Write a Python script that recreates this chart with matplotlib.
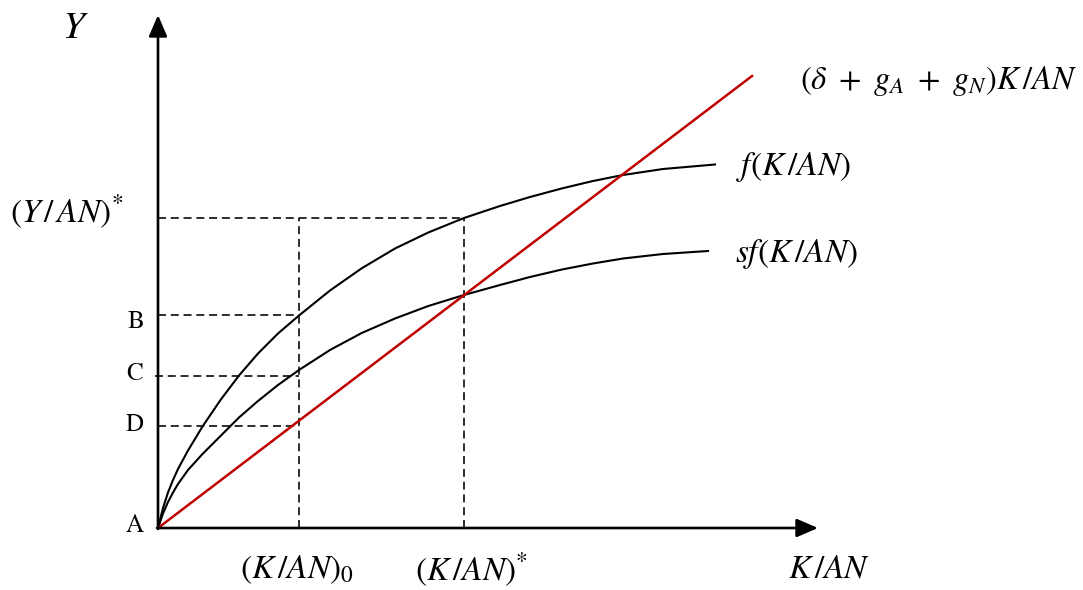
import numpy as np
import matplotlib.pyplot as plt

plt.rcParams['mathtext.fontset'] = 'stix'

# ── 読み取り値 (原点 A からのオフセット, 図の単位) ──────────────────────────
f_k = [0, 5, 10, 15, 20, 30, 44.5, 62.5, 81, 100, 120, 141, 172, 203.7, 237,
       270.3, 306, 342, 372, 404, 435, 465, 505, 557]
f_y = [0, 20, 35.5, 48, 59, 77.5, 101.5, 128, 152.5, 174.5, 194.5, 212.5, 237.5,
       259.7, 279.5, 295.5, 310, 322, 331, 339.6, 347, 353, 359, 363.5]

sf_k = [0, 5, 10, 15, 20, 30, 44.5, 62.5, 81, 100, 120, 141, 172, 203.7, 237,
        270.3, 306, 342, 372, 404, 435, 465, 505, 550]
sf_y = [0, 14.5, 26, 35.5, 44, 58, 74, 92, 110.5, 127, 143, 158, 178, 195,
        209.5, 222, 233, 243, 251, 258.5, 264.5, 269.5, 274, 277]

dep_k = [0, 594]
dep_y = [0, 452]

k0, kstar = 141, 306
ystar = 310
levels = {'B': 213, 'C': 152, 'D': 102}
label_y = {'A': 2.5, 'B': 206, 'C': 154.5, 'D': 103}
label_x = {'A': -23.5, 'B': -22, 'C': -23.5, 'D': -23}

x_max, y_max = 660, 513

fig = plt.figure(figsize=(10.83, 5.90), dpi=100)
ax = fig.add_axes([0, 0, 1, 1])
ax.set_xlim(-158, 925)
ax.set_ylim(-62, 528)
ax.set_axis_off()

# 軸 (矢印)
arrow = dict(arrowstyle='-|>,head_length=0.65,head_width=0.28', color='black',
             lw=1.9, mutation_scale=20, shrinkA=0, shrinkB=0)
ax.annotate('', xy=(0, y_max), xytext=(0, -1), arrowprops=arrow)
ax.annotate('', xy=(x_max, 0), xytext=(-1, 0), arrowprops=arrow)

# 破線
dash = dict(color='black', lw=1.15, ls=(0, (5, 3)))
ax.plot([0, kstar], [ystar, ystar], **dash)
ax.plot([k0, k0], [0, ystar], **dash)
ax.plot([kstar, kstar], [0, ystar], **dash)
for name, v in levels.items():
    x0 = -3 if name == 'C' else 0
    ax.plot([x0, k0], [v, v], **dash)

# 曲線
ax.plot(f_k, f_y, color='black', lw=1.5, solid_joinstyle='round')
ax.plot(sf_k, sf_y, color='black', lw=1.5, solid_joinstyle='round')
ax.plot(dep_k, dep_y, color='#c00000', lw=1.8)

# テキスト
fs = 24
ax.text(-83, 501, r'$Y$', fontsize=28, ha='center', va='center')
ax.text(-148, 316, r'$(Y\,/\,AN)^{*}$', fontsize=fs, ha='left', va='center')
ax.text(642, 447, r'$(\delta\ +\ g_A\ +\ g_N)K\,/AN$', fontsize=23.5, ha='left', va='center')
ax.text(578, 361, r'$f(K\,/AN)$', fontsize=fs, ha='left', va='center')
ax.text(577, 274, r'$sf(K\,/AN)$', fontsize=fs, ha='left', va='center')
ax.text(82, -42, r'$(K\,/AN)_0$', fontsize=fs, ha='left', va='center')
ax.text(257, -42, r'$(K\,/AN)^{*}$', fontsize=fs, ha='left', va='center')
ax.text(630, -40, r'$K\,/AN$', fontsize=fs, ha='left', va='center')

for name, v in label_y.items():
    ax.text(label_x[name], v, name, fontsize=18, family='STIXGeneral',
            ha='center', va='center')

fig.savefig('out.png', dpi=100)
